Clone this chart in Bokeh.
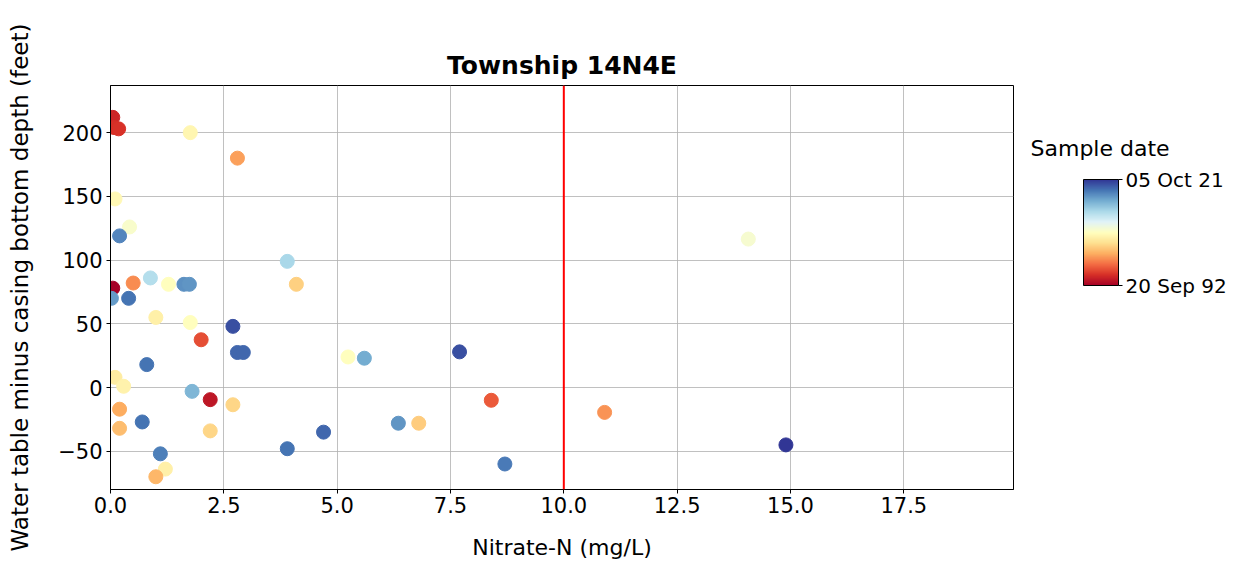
import numpy as np
import pandas as pd
from bokeh.plotting import figure
from bokeh.models import (ColumnDataSource, LinearColorMapper, ColorBar, FixedTicker,
                          Span, PrintfTickFormatter, Range1d)
from bokeh.embed import file_html
from bokeh.resources import INLINE

# ---- data ----
nitrate = [0.05, 0.08, 0.18, 1.76, 2.8, 0.1, 0.42, 0.2, 3.9, 0.5,
           0.88, 1.28, 1.62, 1.74, 4.1, 0.05, 0.02, 0.4, 1.0, 1.76,
           2.7, 2.0, 2.8, 2.93, 5.24, 5.6, 0.8, 0.1, 0.29, 1.8,
           2.2, 2.7, 0.2, 0.7, 0.2, 2.2, 4.7, 3.9, 1.1, 1.21,
           1.0, 6.35, 6.8, 7.7, 8.4, 8.7, 14.07, 10.9, 14.9]
depth = [212, 204, 203, 200, 180, 148, 126, 119, 99, 82,
         86, 81, 81, 81, 81, 78, 70, 70, 55, 51,
         48, 37.5, 27.5, 27.5, 24, 23, 18, 8, 1, -3,
         -9.5, -13.5, -17, -27, -32, -34, -35, -48, -52, -64,
         -70, -28, -28, 28, -10, -60, 116.5, -19.5, -45]
sample_date = ["1995-01-15", "1995-08-10", "1995-10-01", "2006-05-15", "2000-11-05",
               "2006-08-30", "2007-10-25", "2017-12-20", "2013-01-20", "1999-12-20",
               "2012-06-20", "2007-03-28", "2017-05-25", "2017-02-10", "2003-06-15",
               "1992-09-20", "2016-10-25", "2018-11-10", "2005-10-15", "2007-03-28",
               "2020-08-10", "1997-02-01", "2019-06-10", "2019-06-10", "2007-03-28",
               "2015-12-10", "2018-11-10", "2005-07-01", "2006-02-01", "2015-05-15",
               "1994-03-01", "2003-10-05", "2001-06-05", "2018-11-10", "2002-04-20",
               "2003-10-05", "2019-06-10", "2018-11-10", "2018-04-10", "2005-10-15",
               "2002-01-05", "2017-02-10", "2003-03-01", "2020-08-10", "1997-08-25",
               "2018-07-25", "2008-02-10", "2000-04-05", "2021-10-05"]
date_min = "1992-09-20"
date_max = "2021-10-05"
date_min_label = "20 Sep 92"
date_max_label = "05 Oct 21"
x_ticks = [0, 2.5, 5.0, 7.5, 10.0, 12.5, 15.0, 17.5]
y_ticks = [-50, 0, 50, 100, 150, 200]
limit_value = 10.0

# ---- palette (RdYlBu, low = red) ----
rdylbu = ["#a50026", "#d73027", "#f46d43", "#fdae61", "#fee090", "#ffffbf",
          "#e0f3f8", "#abd9e9", "#74add1", "#4575b4", "#313695"]
def hex2rgb(h):
    return [int(h[i:i + 2], 16) for i in (1, 3, 5)]
stops = np.array([hex2rgb(c) for c in rdylbu], dtype=float)
pos = np.linspace(0, 1, len(rdylbu))
fine = np.linspace(0, 1, 256)
palette = ["#%02x%02x%02x" % tuple(int(round(np.interp(f, pos, stops[:, k]))) for k in range(3))
           for f in fine]

def to_ms(s):
    return float(pd.Timestamp(s).value // 10**6)

lo, hi = to_ms(date_min), to_ms(date_max)
src = ColumnDataSource(dict(x=nitrate, y=depth, t=[to_ms(d) for d in sample_date]))
mapper = LinearColorMapper(palette=palette, low=lo, high=hi)

FONT = "DejaVu Sans"
p = figure(frame_width=903, frame_height=404, output_backend="svg", toolbar_location=None,
           x_range=Range1d(0, 19.92), y_range=Range1d(-80, 237),
           min_border_left=110, min_border_right=224, min_border_top=85, min_border_bottom=78,
           title="Township 14N4E")
p.title.text_font = FONT
p.title.text_font_size = "25px"
p.title.text_font_style = "bold"
p.title.text_color = "black"
p.title.align = "center"
p.title.standoff = 12

p.outline_line_color = "black"
p.outline_line_alpha = 1
p.outline_line_width = 1

for ax in (p.xaxis[0], p.yaxis[0]):
    ax.major_tick_line_color = "black"
    ax.major_tick_out = 4
    ax.major_tick_in = 0
    ax.minor_tick_line_color = None
    ax.minor_tick_out = 0
    ax.axis_line_color = "black"
    ax.major_label_text_font = FONT
    ax.major_label_text_font_size = "21px"
    ax.major_label_text_color = "black"
    ax.axis_label_text_font = FONT
    ax.axis_label_text_font_style = "normal"
    ax.axis_label_text_color = "black"

p.xaxis.major_label_standoff = 3
p.yaxis.major_label_standoff = 4

p.xaxis.ticker = FixedTicker(ticks=x_ticks)
p.xaxis.formatter = PrintfTickFormatter(format="%.1f")
p.xaxis.axis_label = "Nitrate-N (mg/L)"
p.xaxis.axis_label_text_font_size = "22px"
p.xaxis.axis_label_standoff = 19

p.yaxis.ticker = FixedTicker(ticks=y_ticks)
p.yaxis.major_label_overrides = {t: ("\u2212" + str(abs(t)) if t < 0 else str(t)) for t in y_ticks}
p.yaxis.axis_label = "Water table minus casing bottom depth (feet)"
p.yaxis.axis_label_text_font_size = "23px"
p.yaxis.axis_label_standoff = 22

p.xgrid.grid_line_color = "#b0b0b0"
p.ygrid.grid_line_color = "#b0b0b0"
p.xgrid.grid_line_alpha = 0.8
p.ygrid.grid_line_alpha = 0.8
p.xgrid.ticker = FixedTicker(ticks=x_ticks)
p.ygrid.ticker = FixedTicker(ticks=y_ticks)

p.scatter("x", "y", source=src, size=14,
          fill_color={"field": "t", "transform": mapper},
          line_color={"field": "t", "transform": mapper}, line_width=1)

p.add_layout(Span(location=limit_value, dimension="height", line_color="red", line_width=2))

cb = ColorBar(color_mapper=mapper, location=(973, 204), width=35, height=106,
              padding=0, margin=0, ticker=FixedTicker(ticks=[lo, hi]),
              major_label_overrides={lo: date_min_label, hi: date_max_label},
              major_label_text_font=FONT, major_label_text_font_size="20px",
              major_label_text_color="black",
              major_tick_out=4, major_tick_in=0, major_tick_line_color="black",
              label_standoff=3, bar_line_color="black",
              background_fill_alpha=0, border_line_color=None)
p.add_layout(cb)

# title of the colour scale, drawn by an empty colour bar so it can sit left of the bar
cbt = ColorBar(color_mapper=mapper, location=(920, 328), width=1, height=1,
               orientation="horizontal",
               padding=0, margin=0, ticker=FixedTicker(ticks=[]),
               title="Sample date", title_text_font=FONT, title_text_font_size="22px",
               title_text_font_style="normal", title_text_color="black", title_standoff=0,
               scale_alpha=0, bar_line_color=None, major_tick_line_color=None,
               major_tick_out=0, major_tick_in=0, label_standoff=0,
               background_fill_alpha=0, border_line_color=None)
p.add_layout(cbt)

open("out.html", "w").write(file_html(p, INLINE))
